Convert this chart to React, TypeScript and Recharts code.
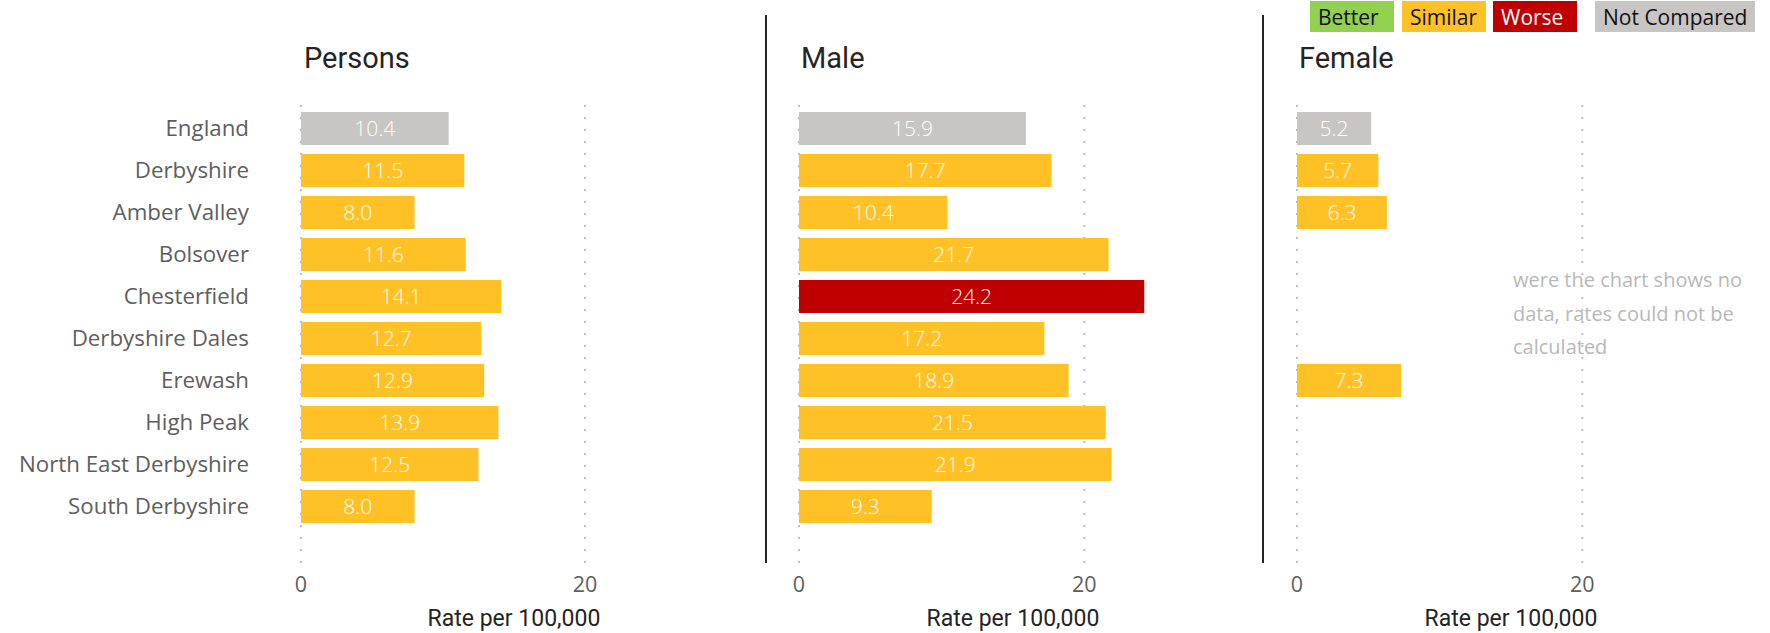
import React from "react";
import {
  Bar,
  BarChart,
  CartesianGrid,
  Cell,
  LabelList,
  XAxis,
  YAxis,
} from "recharts";

/* data */
const areas = [
  "England",
  "Derbyshire",
  "Amber Valley",
  "Bolsover",
  "Chesterfield",
  "Derbyshire Dales",
  "Erewash",
  "High Peak",
  "North East Derbyshire",
  "South Derbyshire",
];
const personsRate = [10.4, 11.5, 8.0, 11.6, 14.1, 12.7, 12.9, 13.9, 12.5, 8.0];
const maleRate = [15.9, 17.7, 10.4, 21.7, 24.2, 17.2, 18.9, 21.5, 21.9, 9.3];
const femaleRate = [5.2, 5.7, 6.3, null, null, null, 7.3, null, null, null];

const personsStatus = ["nc", "similar", "similar", "similar", "similar", "similar", "similar", "similar", "similar", "similar"];
const maleStatus = ["nc", "similar", "similar", "similar", "worse", "similar", "similar", "similar", "similar", "similar"];
const femaleStatus = ["nc", "similar", "similar", "similar", "similar", "similar", "similar", "similar", "similar", "similar"];

const legendLabels = ["Better", "Similar", "Worse", "Not Compared"];
const xTicks = [0, 20];

const COLORS: Record<string, string> = {
  better: "#92D050",
  similar: "#FFC125",
  worse: "#C00000",
  nc: "#C8C6C4",
};
const legendKeys = ["better", "similar", "worse", "nc"];

const LABEL_FONT = "'Open Sans', sans-serif";
const TITLE_FONT = "Roboto, sans-serif";

function buildRows(values: (number | null)[], status: string[]) {
  return areas.map((name, i) => ({ name, value: values[i], status: status[i] }));
}

function Panel({
  title,
  rows,
  left,
  width,
  showCategories,
}: {
  title: string;
  rows: { name: string; value: number | null; status: string }[];
  left: number;
  width: number;
  showCategories: boolean;
}) {
  return (
    <div style={{ position: "absolute", left, top: 0, width, height: 633 }}>
      <BarChart
        width={width}
        height={633}
        data={rows}
        layout="vertical"
        barSize={33}
        margin={{ top: 105, right: 18, bottom: 0, left: showCategories ? 0 : 20 }}
      >
        {/* dotted gridlines at the ticks only (no edge lines) */}
        <CartesianGrid
          horizontal={false}
          syncWithTicks
          stroke="#BDBDBD"
          strokeWidth={2}
          strokeDasharray="2 10"
        />
        <XAxis
          type="number"
          domain={[0, 30]}
          ticks={xTicks}
          axisLine={false}
          tickLine={false}
          tickSize={0}
          tickMargin={13}
          height={69}
          tick={{ fontSize: 21.5, fill: "#605E5C", fontFamily: LABEL_FONT }}
          label={{
            value: "Rate per 100,000",
            position: "insideBottom",
            offset: 7,
            style: {
              fontSize: 23,
              fontWeight: 400,
              fill: "#252423",
              fontFamily: TITLE_FONT,
            },
          }}
        />
        <YAxis
          type="category"
          dataKey="name"
          hide={!showCategories}
          width={showCategories ? 301 : 0}
          axisLine={false}
          tickLine={false}
          tickSize={0}
          tickMargin={52}
          padding={{ top: 2, bottom: 37 }}
          interval={0}
          tick={{ fontSize: 22.3, fill: "#605E5C", fontFamily: LABEL_FONT }}
        />
        <Bar dataKey="value" isAnimationActive={false}>
          {rows.map((r) => (
            <Cell key={r.name} fill={COLORS[r.status]} />
          ))}
          <LabelList
            dataKey="value"
            position="center"
            formatter={(v: any) => (v == null ? "" : Number(v).toFixed(1))}
            style={{ fill: "#FFFFFF", fontSize: 21, fontFamily: LABEL_FONT, fontWeight: 300 }}
          />
        </Bar>
      </BarChart>
      <svg
        width={width}
        height={80}
        style={{ position: "absolute", left: 0, top: 0, overflow: "visible" }}
      >
        <text
          x={showCategories ? 304 : 22}
          y={67.7}
          fontSize={29}
          fontWeight={400}
          fill="#252423"
          fontFamily={TITLE_FONT}
        >
          {title}
        </text>
      </svg>
    </div>
  );
}

export default function App() {
  const legendBoxes = [
    { x: 1310, w: 84 },
    { x: 1402, w: 84 },
    { x: 1493, w: 84 },
    { x: 1595, w: 160 },
  ];
  return (
    <div
      style={{
        position: "absolute",
        left: 0,
        top: 0,
        width: 1770,
        height: 633,
        background: "#FFFFFF",
        overflow: "hidden",
      }}
    >
      <Panel title="Persons" rows={buildRows(personsRate, personsStatus)} left={0} width={745} showCategories />
      <Panel title="Male" rows={buildRows(maleRate, maleStatus)} left={779} width={466} showCategories={false} />
      <Panel title="Female" rows={buildRows(femaleRate, femaleStatus)} left={1277} width={466} showCategories={false} />

      <div style={{ position: "absolute", left: 765, top: 15, width: 2, height: 548, background: "#252423" }} />
      <div style={{ position: "absolute", left: 1262, top: 15, width: 2, height: 548, background: "#252423" }} />

      <svg width={1770} height={633} style={{ position: "absolute", left: 0, top: 0, pointerEvents: "none" }}>
        {legendLabels.map((label, i) => (
          <g key={label}>
            <rect x={legendBoxes[i].x} y={1} width={legendBoxes[i].w} height={31} fill={COLORS[legendKeys[i]]} />
            <text
              x={legendBoxes[i].x + 8}
              y={25}
              fontSize={21}
              fontFamily={LABEL_FONT}
              fill={legendKeys[i] === "worse" ? "#FFFFFF" : "#111111"}
            >
              {label}
            </text>
          </g>
        ))}
        <text fontSize={20} fontFamily={LABEL_FONT} fill="#B8B8B8">
          <tspan x={1513} y={286.7}>were the chart shows no</tspan>
          <tspan x={1513} y={320.5}>data, rates could not be</tspan>
          <tspan x={1513} y={354.3}>calculated</tspan>
        </text>
      </svg>
    </div>
  );
}
